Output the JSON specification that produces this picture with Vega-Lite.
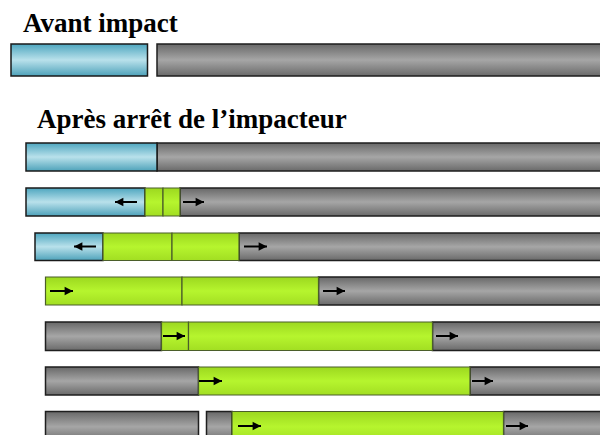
{
  "$schema": "https://vega.github.io/schema/vega-lite/v6.json",
  "width": 600,
  "height": 435,
  "autosize": {"type": "fit", "contains": "padding"},
  "padding": 0,
  "background": "white",
  "config": {"axis": {"disable": true}, "view": {"stroke": null}},
  "datasets": {
    "lanes": [
      {"lane": 0, "top": 44, "bottom": 76, "mid": 60},
      {"lane": 1, "top": 143, "bottom": 171, "mid": 157},
      {"lane": 2, "top": 188, "bottom": 216, "mid": 202},
      {"lane": 3, "top": 233, "bottom": 260.5, "mid": 246.5},
      {"lane": 4, "top": 277, "bottom": 305, "mid": 291},
      {"lane": 5, "top": 322, "bottom": 350.5, "mid": 336},
      {"lane": 6, "top": 367, "bottom": 395, "mid": 381},
      {"lane": 7, "top": 411.5, "bottom": 442, "mid": 426}
    ],
    "segments": [
      {"lane": 0, "mat": "blue", "from": 11, "to": 147.5},
      {"lane": 0, "mat": "gray", "from": 157, "to": 606},
      {"lane": 1, "mat": "blue", "from": 26, "to": 157},
      {"lane": 1, "mat": "gray", "from": 157, "to": 606},
      {"lane": 2, "mat": "blue", "from": 26, "to": 145},
      {"lane": 2, "mat": "green", "from": 145, "to": 163},
      {"lane": 2, "mat": "green", "from": 163, "to": 180},
      {"lane": 2, "mat": "gray", "from": 180, "to": 606},
      {"lane": 3, "mat": "blue", "from": 35, "to": 103},
      {"lane": 3, "mat": "green", "from": 103, "to": 172},
      {"lane": 3, "mat": "green", "from": 172, "to": 239},
      {"lane": 3, "mat": "gray", "from": 239, "to": 606},
      {"lane": 4, "mat": "green", "from": 45.5, "to": 182},
      {"lane": 4, "mat": "green", "from": 182, "to": 318.5},
      {"lane": 4, "mat": "gray", "from": 318.5, "to": 606},
      {"lane": 5, "mat": "gray", "from": 45.5, "to": 161.5},
      {"lane": 5, "mat": "green", "from": 161.5, "to": 188.5},
      {"lane": 5, "mat": "green", "from": 188.5, "to": 432.5},
      {"lane": 5, "mat": "gray", "from": 432.5, "to": 606},
      {"lane": 6, "mat": "gray", "from": 45.5, "to": 198.5},
      {"lane": 6, "mat": "green", "from": 198.5, "to": 470},
      {"lane": 6, "mat": "gray", "from": 470, "to": 606},
      {"lane": 7, "mat": "gray", "from": 45.5, "to": 198.5},
      {"lane": 7, "mat": "gray", "from": 206.5, "to": 232},
      {"lane": 7, "mat": "green", "from": 232, "to": 503.5},
      {"lane": 7, "mat": "gray", "from": 503.5, "to": 606}
    ],
    "arrows": [
      {"lane": 2, "dir": "left", "tail": 137, "tip": 115},
      {"lane": 2, "dir": "right", "tail": 183, "tip": 204},
      {"lane": 3, "dir": "left", "tail": 96, "tip": 74},
      {"lane": 3, "dir": "right", "tail": 244, "tip": 267},
      {"lane": 4, "dir": "right", "tail": 50, "tip": 73},
      {"lane": 4, "dir": "right", "tail": 323, "tip": 345},
      {"lane": 5, "dir": "right", "tail": 163, "tip": 185},
      {"lane": 5, "dir": "right", "tail": 436, "tip": 458},
      {"lane": 6, "dir": "right", "tail": 199, "tip": 222},
      {"lane": 6, "dir": "right", "tail": 472, "tip": 493},
      {"lane": 7, "dir": "right", "tail": 238, "tip": 261},
      {"lane": 7, "dir": "right", "tail": 506, "tip": 528}
    ],
    "labels": [
      {"label": "Avant impact", "px": 23, "py": 31.7},
      {"label": "Après arrêt de l’impacteur", "px": 37, "py": 128.3}
    ]
  },
  "layer": [
    {
      "data": {"name": "segments"},
      "transform": [
        {"filter": "datum.mat === 'gray'"},
        {"lookup": "lane", "from": {"data": {"name": "lanes"}, "key": "lane", "fields": ["top", "bottom"]}}
      ],
      "mark": {
        "type": "rect", "clip": true, "stroke": "#1e1e1e", "strokeWidth": 1.5,
        "fill": {"gradient": "linear", "x1": 0, "y1": 0, "x2": 0, "y2": 1,
          "stops": [{"offset": 0, "color": "#686868"}, {"offset": 0.5, "color": "#a6a6a6"}, {"offset": 1, "color": "#6a6a6a"}]}
      },
      "encoding": {
        "x": {"field": "from", "type": "quantitative", "scale": {"domain": [0, 600], "nice": false, "zero": false}},
        "x2": {"field": "to"},
        "y": {"field": "top", "type": "quantitative", "scale": {"domain": [0, 435], "nice": false, "zero": false, "reverse": true}},
        "y2": {"field": "bottom"}
      }
    },
    {
      "data": {"name": "segments"},
      "transform": [
        {"filter": "datum.mat === 'blue'"},
        {"lookup": "lane", "from": {"data": {"name": "lanes"}, "key": "lane", "fields": ["top", "bottom"]}}
      ],
      "mark": {
        "type": "rect", "clip": true, "stroke": "#1a1a1a", "strokeWidth": 1.5,
        "fill": {"gradient": "linear", "x1": 0, "y1": 0, "x2": 0, "y2": 1,
          "stops": [{"offset": 0, "color": "#4ea6bf"}, {"offset": 0.5, "color": "#b9e1eb"}, {"offset": 1, "color": "#4ea2ba"}]}
      },
      "encoding": {
        "x": {"field": "from", "type": "quantitative"},
        "x2": {"field": "to"},
        "y": {"field": "top", "type": "quantitative"},
        "y2": {"field": "bottom"}
      }
    },
    {
      "data": {"name": "segments"},
      "transform": [
        {"filter": "datum.mat === 'green'"},
        {"lookup": "lane", "from": {"data": {"name": "lanes"}, "key": "lane", "fields": ["top", "bottom"]}}
      ],
      "mark": {
        "type": "rect", "clip": true, "stroke": "#4b5e2a", "strokeWidth": 1.2,
        "fill": {"gradient": "linear", "x1": 0, "y1": 0, "x2": 0, "y2": 1,
          "stops": [{"offset": 0, "color": "#9cd81f"}, {"offset": 0.5, "color": "#b6f52e"}, {"offset": 1, "color": "#a2de22"}]}
      },
      "encoding": {
        "x": {"field": "from", "type": "quantitative"},
        "x2": {"field": "to"},
        "y": {"field": "top", "type": "quantitative"},
        "y2": {"field": "bottom"}
      }
    },
    {
      "data": {"name": "arrows"},
      "transform": [
        {"lookup": "lane", "from": {"data": {"name": "lanes"}, "key": "lane", "fields": ["mid"]}}
      ],
      "mark": {"type": "rule", "color": "#000000", "strokeWidth": 2},
      "encoding": {
        "x": {"field": "tail", "type": "quantitative"},
        "x2": {"field": "tip"},
        "y": {"field": "mid", "type": "quantitative"}
      }
    },
    {
      "data": {"name": "arrows"},
      "transform": [
        {"lookup": "lane", "from": {"data": {"name": "lanes"}, "key": "lane", "fields": ["mid"]}}
      ],
      "mark": {"type": "point", "filled": true, "color": "#000000", "opacity": 1, "size": 110, "strokeWidth": 0},
      "encoding": {
        "x": {"field": "tip", "type": "quantitative"},
        "y": {"field": "mid", "type": "quantitative"},
        "shape": {"field": "dir", "type": "nominal", "legend": null,
          "scale": {"domain": ["right", "left"], "range": ["M0,0 L-1.6,-0.8 L-1.6,0.8 Z", "M0,0 L1.6,-0.8 L1.6,0.8 Z"]}}
      }
    },
    {
      "data": {"name": "labels"},
      "mark": {"type": "text", "font": "Liberation Serif", "fontWeight": "bold", "fontSize": 27, "align": "left", "baseline": "alphabetic", "color": "#000000"},
      "encoding": {
        "x": {"field": "px", "type": "quantitative"},
        "y": {"field": "py", "type": "quantitative"},
        "text": {"field": "label", "type": "nominal"}
      }
    }
  ]
}
